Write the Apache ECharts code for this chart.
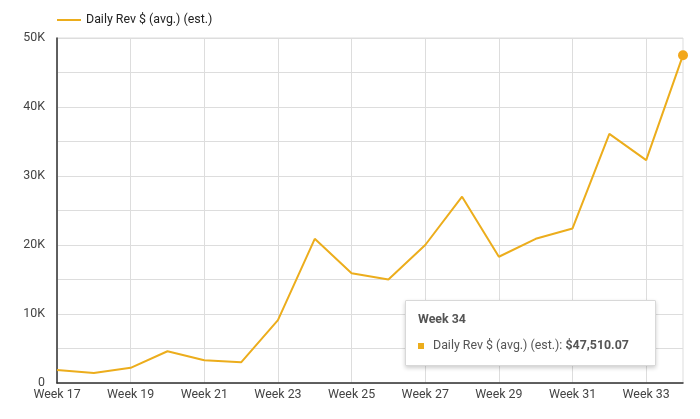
<!DOCTYPE html>
<html><head><meta charset="utf-8">
<script src="https://cdn.jsdelivr.net/npm/echarts@6/dist/echarts.min.js"></script>
<style>html,body{margin:0;padding:0;background:#fff}#c{width:700px;height:419px}</style>
</head><body><div id="c"></div>
<script>
const weeks = ['Week 17','Week 18','Week 19','Week 20','Week 21','Week 22','Week 23','Week 24','Week 25','Week 26','Week 27','Week 28','Week 29','Week 30','Week 31','Week 32','Week 33','Week 34'];
const dailyRev = [1900, 1450, 2200, 4600, 3300, 3000, 9100, 20900, 15900, 15000, 20000, 27000, 18300, 20900, 22400, 36100, 32300, 47510.07];
const seriesName = 'Daily Rev $ (avg.) (est.)';
const yTicks = [0, 10000, 20000, 30000, 40000, 50000];

const color = '#ecad1c';
const chart = echarts.init(document.getElementById('c'), null, {renderer:'canvas'});
const lastIdx = dailyRev.length - 1;
chart.setOption({
  animation: false,
  textStyle: {fontFamily: 'Roboto, "Noto Sans", sans-serif'},
  grid: {left: 57, right: 17, top: 38, bottom: 36, show: true, borderColor: '#ddd', borderWidth: 1},
  legend: {
    left: 52, top: 9, itemWidth: 24, itemHeight: 2, itemGap: 6,
    icon: 'rect',
    textStyle: {fontSize: 12.4, color: '#222'},
    data: [{name: seriesName, icon: 'rect'}]
  },
  tooltip: {
    trigger: 'item',
    alwaysShowContent: true,
    position: function(){ return [405, 300]; },
    backgroundColor: '#fff',
    borderColor: '#d8d8d8',
    borderWidth: 1,
    padding: 0,
    extraCssText: 'box-shadow:0 2px 4px rgba(0,0,0,0.2);border-radius:1px;',
    formatter: function(p){
      return '<div style="width:249px;height:64px;box-sizing:border-box;padding:11px 12px;font-family:Roboto,sans-serif;color:#555;font-size:12.4px;line-height:14px">'
        + '<div style="font-weight:bold;margin-bottom:12px">' + p.name + '</div>'
        + '<div><span style="display:inline-block;width:6px;height:6px;background:' + color + ';margin-right:9px;vertical-align:middle"></span>'
        + p.seriesName + ': <b>$' + p.value.toLocaleString('en-US',{minimumFractionDigits:2, maximumFractionDigits:2}) + '</b></div></div>';
    }
  },
  xAxis: {
    type: 'category', data: weeks, boundaryGap: false,
    axisLine: {lineStyle: {color: '#333', width: 1.5}},
    axisTick: {show: false},
    axisLabel: {interval: 1, color: '#444', fontSize: 12.4, margin: 6},
    splitLine: {show: true, interval: 1, lineStyle: {color: '#ddd'}}
  },
  yAxis: {
    type: 'value', min: 0, max: 50000, interval: 5000,
    axisLine: {show: true, lineStyle: {color: '#333', width: 1.5}},
    axisTick: {show: false},
    axisLabel: {color: '#444', fontSize: 12.4, margin: 12,
      formatter: function(v){ if (yTicks.indexOf(v) < 0) return ''; return v === 0 ? '0' : (v/1000) + 'K'; }},
    splitLine: {lineStyle: {color: '#ddd'}}
  },
  series: [{
    name: seriesName, type: 'line',
    data: dailyRev.map(function(v, i){
      return i === lastIdx ? {value: v, symbol: 'circle', symbolSize: 10, itemStyle: {color: '#f2a71b'}} : {value: v, symbol: 'none'};
    }),
    showSymbol: true,
    lineStyle: {color: color, width: 2},
    itemStyle: {color: color},
    emphasis: {disabled: true}
  }]
});
chart.dispatchAction({type: 'showTip', seriesIndex: 0, dataIndex: lastIdx});
</script></body></html>
